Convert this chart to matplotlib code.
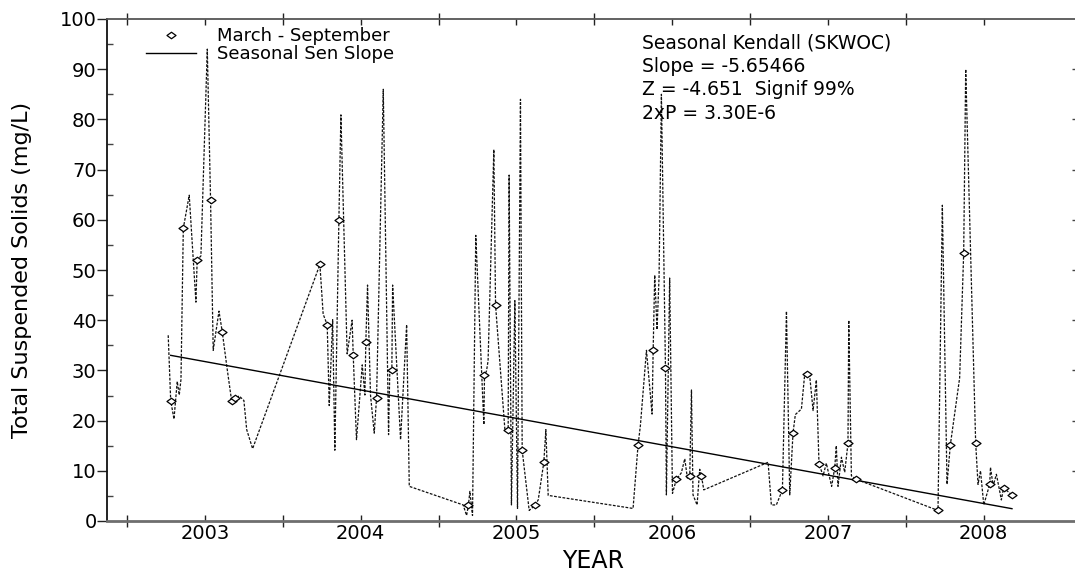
import matplotlib
matplotlib.use("Agg")
import matplotlib.pyplot as plt
import numpy as np
from matplotlib.path import Path
from matplotlib.lines import Line2D

plt.rcParams['font.family'] = ['DejaVu Sans']

# ---------------- data (decimal year, TSS mg/L, seasonal marker flag) ----------------
dec_year = [
    2002.764, 2002.780, 2002.801, 2002.822, 2002.835, 2002.846, 2002.861, 2002.899, 2002.942, 2002.950,
    2002.974, 2003.015, 2003.036, 2003.053, 2003.090, 2003.111, 2003.143, 2003.171, 2003.193, 2003.220,
    2003.250, 2003.268, 2003.306, 2003.738, 2003.759, 2003.785, 2003.798, 2003.820, 2003.834, 2003.860,
    2003.873, 2003.913, 2003.945, 2003.952, 2003.973, 2004.010, 2004.027, 2004.033, 2004.044, 2004.063,
    2004.087, 2004.102, 2004.145, 2004.179, 2004.187, 2004.200, 2004.205, 2004.256, 2004.295, 2004.312,
    2004.658, 2004.680, 2004.692, 2004.701, 2004.718, 2004.739, 2004.791, 2004.795, 2004.808, 2004.818,
    2004.855, 2004.866, 2004.926, 2004.947, 2004.953, 2004.968, 2004.990, 2005.007, 2005.026, 2005.037,
    2005.082, 2005.118, 2005.140, 2005.176, 2005.189, 2005.204, 2005.749, 2005.781, 2005.796, 2005.835,
    2005.871, 2005.878, 2005.888, 2005.903, 2005.916, 2005.931, 2005.957, 2005.963, 2005.984, 2006.002,
    2006.027, 2006.059, 2006.081, 2006.098, 2006.113, 2006.124, 2006.134, 2006.160, 2006.177, 2006.188,
    2006.203, 2006.616, 2006.637, 2006.669, 2006.708, 2006.734, 2006.755, 2006.776, 2006.791, 2006.830,
    2006.851, 2006.868, 2006.883, 2006.905, 2006.926, 2006.943, 2006.969, 2006.990, 2007.024, 2007.044,
    2007.054, 2007.065, 2007.087, 2007.108, 2007.129, 2007.134, 2007.151, 2007.183, 2007.707, 2007.735,
    2007.765, 2007.786, 2007.846, 2007.872, 2007.885, 2007.949, 2007.964, 2007.980, 2008.001, 2008.039,
    2008.044, 2008.061, 2008.082, 2008.114, 2008.128, 2008.182,
]
tss = [
    37.0, 24.0, 20.3, 27.8, 25.1, 28.2, 58.3, 64.9, 43.6, 52.0,
    52.8, 94.0, 63.9, 34.0, 41.8, 37.7, 30.2, 24.0, 24.5, 24.9,
    24.0, 18.2, 14.4, 51.1, 41.2, 39.1, 23.0, 40.1, 14.1, 60.0,
    80.9, 33.3, 40.0, 33.1, 16.2, 31.1, 25.1, 35.7, 47.0, 25.1,
    17.5, 24.6, 86.0, 17.2, 30.2, 30.0, 47.0, 16.2, 39.1, 6.9,
    3.2, 1.1, 3.2, 5.9, 1.1, 56.9, 19.2, 29.0, 29.9, 31.9,
    74.0, 43.0, 18.2, 18.1, 68.9, 3.2, 43.9, 2.5, 84.0, 14.1,
    2.1, 3.1, 4.2, 11.7, 18.2, 5.1, 2.5, 15.1, 19.0, 34.0,
    21.3, 34.0, 49.0, 38.1, 48.7, 85.0, 30.5, 5.2, 48.4, 5.5,
    8.3, 9.6, 12.4, 8.5, 9.0, 26.1, 5.2, 3.2, 10.3, 9.0,
    6.2, 11.7, 3.2, 3.2, 6.2, 41.8, 5.2, 17.5, 21.2, 22.3,
    29.2, 29.2, 29.0, 22.0, 28.1, 11.4, 9.0, 11.5, 6.9, 10.6,
    15.0, 6.9, 12.7, 9.7, 15.5, 40.0, 9.0, 8.3, 2.1, 62.9,
    7.3, 15.1, 28.5, 53.4, 90.0, 15.5, 7.3, 10.0, 3.2, 7.3,
    10.7, 7.0, 9.3, 4.2, 6.6, 5.2,
]
is_season = [
    0, 1, 0, 0, 0, 0, 1, 0, 0, 1,
    0, 0, 1, 0, 0, 1, 0, 1, 1, 0,
    0, 0, 0, 1, 0, 1, 0, 0, 0, 1,
    0, 0, 0, 1, 0, 0, 0, 1, 0, 0,
    0, 1, 0, 0, 0, 1, 0, 0, 0, 0,
    0, 0, 1, 0, 0, 0, 0, 1, 0, 0,
    0, 1, 0, 1, 0, 0, 0, 0, 0, 1,
    0, 1, 0, 1, 0, 0, 0, 1, 0, 0,
    0, 1, 0, 0, 0, 0, 1, 0, 0, 0,
    1, 0, 0, 0, 1, 0, 0, 0, 0, 1,
    0, 0, 0, 0, 1, 0, 0, 1, 0, 0,
    0, 1, 0, 0, 0, 1, 0, 0, 0, 1,
    0, 0, 0, 0, 1, 0, 0, 1, 1, 0,
    0, 1, 0, 1, 0, 1, 0, 0, 0, 1,
    0, 0, 0, 0, 1, 1,
]

# Seasonal Sen slope trend
sen_slope = -5.65466          # mg/L per year
sen_start_value = 33.0        # value of trend at first seasonal sample
stats_lines = [
    "Seasonal Kendall (SKWOC)",
    "Slope = -5.65466",
    "Z = -4.651  Signif 99%",
    "2xP = 3.30E-6",
]
year_labels = ["2003", "2004", "2005", "2006", "2007", "2008"]
legend_labels = ["March - September", "Seasonal Sen Slope"]

# ---------------- figure ----------------
W, H = 1075, 572
fig = plt.figure(figsize=(W / 100, H / 100), dpi=100)
L, R, T, B = 107, 1075.5, 19, 521
ax = fig.add_axes([L / W, (H - B) / H, (R - L) / W, (B - T) / H])

x = np.array(dec_year)
y = np.array(tss)
m = np.array(is_season, dtype=bool)

diamond = Path([(-1, 0), (0, 0.72), (1, 0), (0, -0.72), (-1, 0)],
               [Path.MOVETO, Path.LINETO, Path.LINETO, Path.LINETO, Path.CLOSEPOLY])

ax.plot(x, y, color='#111111', lw=0.9, linestyle=(0, (2.2, 1.2)), zorder=2)
ax.plot(x[m], y[m], linestyle='none', marker=diamond, ms=6.5, mfc='white',
        mec='black', mew=0.9, zorder=4)

tx = np.array([x[m][0], x[-1]])
ty = sen_start_value + sen_slope * (tx - x[m][0])
ax.plot(tx, ty, color='black', lw=1.0, zorder=3)

ax.set_xlim(2002.371, 2008.59)
ax.set_ylim(0, 100)

# x ticks: half-year marks (crossing), labels at years
years = np.arange(2003, 2009)
ax.set_xticks(years - 0.5)
ax.set_xticks(years, minor=True)
ax.set_xticklabels([], minor=False)
ax.set_xticklabels(year_labels, minor=True, fontsize=14)
ax.tick_params(axis='x', which='major', direction='inout', length=8, width=1.0,
               top=True, bottom=True, labelbottom=False, color='#222')
ax.tick_params(axis='x', which='minor', direction='in', length=4, width=1.0,
               top=True, bottom=True, pad=2, color='#222')

# y ticks
ax.set_yticks(np.arange(0, 101, 10))
ax.set_yticks(np.arange(5, 100, 10), minor=True)
ax.tick_params(axis='y', which='major', direction='out', length=7, width=1.0,
               labelsize=14, pad=0.5, right=False, color='#222')
ax.tick_params(axis='y', which='minor', direction='in', length=4, width=1.0,
               right=False, color='#444')
sec = ax.secondary_yaxis('right')
sec.set_yticks(np.arange(10, 100, 10))
sec.tick_params(direction='in', length=3, width=1.0, labelright=False, color='#444')

ax.spines['left'].set_color('#111')
ax.spines['left'].set_linewidth(1.3)
ax.spines['bottom'].set_color('#6e6e6e')
ax.spines['bottom'].set_linewidth(2.0)
ax.spines['top'].set_color('#555')
ax.spines['top'].set_linewidth(1.3)

ax.set_ylabel("Total Suspended Solids (mg/L)", fontsize=16, va='center')
ax.yaxis.set_label_coords((22 - L) / (R - L), 0.5)
ax.set_xlabel("YEAR", fontsize=17, va='center')
ax.xaxis.set_label_coords(0.502, (B - 561) / (B - T))

# legend
handles = [
    Line2D([], [], linestyle='none', marker=diamond, ms=6.5, mfc='white', mec='black', mew=0.9),
    Line2D([], [], color='black', lw=1.0),
]
ax.legend(handles, legend_labels, loc='upper left',
          bbox_to_anchor=((146 - L) / (R - L), (B - 27) / (B - T)),
          frameon=False, borderpad=0, borderaxespad=0, fontsize=13,
          handlelength=2.75, handletextpad=1.2, labelspacing=0.0, numpoints=1)

# statistics block
for i, line in enumerate(stats_lines):
    yc = 42.7 + 23.5 * i
    ax.text((642 - L) / (R - L), (B - yc) / (B - T), line, transform=ax.transAxes,
            fontsize=13.5, ha='left', va='center', color='black')

fig.savefig("out.png", dpi=100)
